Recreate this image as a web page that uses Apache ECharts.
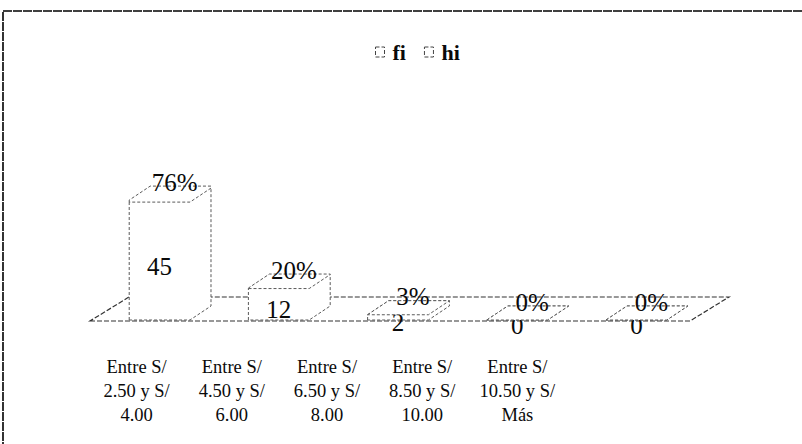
<!DOCTYPE html>
<html>
<head>
<meta charset="utf-8">
<script src="https://cdn.jsdelivr.net/npm/echarts@6/dist/echarts.min.js"></script>
<style>
  html, body { margin: 0; padding: 0; background: #fff; }
  #chart { width: 802px; height: 444px; }
</style>
</head>
<body>
<div id="chart"></div>
<script>
// Price ranges (S/) and their frequencies
const categories = [
  'Entre S/\n2.50 y S/\n4.00',
  'Entre S/\n4.50 y S/\n6.00',
  'Entre S/\n6.50 y S/\n8.00',
  'Entre S/\n8.50 y S/\n10.00',
  'Entre S/\n10.50 y S/\nMás'
];
const fi = [45, 12, 2, 0, 0];          // absolute frequency
const hi = [0.76, 0.20, 0.03, 0, 0];   // relative frequency

const SERIF = 'Liberation Serif';
const INK = '#0a0a0a';
const EDGE = '#5a5a5a';
const DEPTH_X = 21, DEPTH_Y = -14;     // 3D offset of a column
const FLOOR_X = 39, FLOOR_Y = -24;     // 3D offset of the floor

// Outline of a 3D column between two values, as seen from the front-left
function columnPoints(api, idx, from, to) {
  const base = api.coord([idx, from]);
  const top = api.coord([idx, to]);
  const w = api.size([1, 0])[0] * 0.51;
  const xl = base[0] - w / 2, xr = base[0] + w / 2;
  return {
    cx: base[0], yb: base[1], yt: top[1],
    points: [
      [xl, base[1]], [xl, top[1]],
      [xl + DEPTH_X, top[1] + DEPTH_Y], [xr + DEPTH_X, top[1] + DEPTH_Y],
      [xr + DEPTH_X, base[1] + DEPTH_Y], [xr, base[1]]
    ]
  };
}

function edgeStyle() {
  return { fill: '#fff', stroke: EDGE, lineWidth: 1, lineDash: [3, 2] };
}

function valueText(x, y, text) {
  return {
    type: 'text', z2: 10,
    style: {
      x, y, text,
      font: 'normal 25px "Liberation Serif", serif',
      fontFamily: SERIF, fontSize: 25,
      fill: INK, align: 'center', verticalAlign: 'middle'
    }
  };
}

const chart = echarts.init(document.getElementById('chart'), null, { renderer: 'svg' });

chart.setOption({
  animation: false,
  backgroundColor: '#fff',
  graphic: [{
    type: 'rect',
    shape: { x: 3, y: 11, width: 830, height: 460 },
    style: { fill: 'none', stroke: '#000', lineWidth: 1.6, lineDash: [9, 1] },
    silent: true
  }],
  legend: {
    left: 370, top: 36,
    itemWidth: 9, itemHeight: 10, itemGap: 18,
    textStyle: { fontFamily: SERIF, fontSize: 22, fontWeight: 'bold', color: INK, padding: [0, 0, 0, 3] },
    data: [
      { name: 'fi', icon: 'rect', itemStyle: { color: '#fff', borderColor: '#444', borderWidth: 1, borderType: 'dashed' } },
      { name: 'hi', icon: 'rect', itemStyle: { color: '#fff', borderColor: '#444', borderWidth: 1, borderType: 'dashed' } }
    ]
  },
  grid: [
    { left: 100, width: 596, top: 189, height: 131 },
    { left: 89, width: 476, top: 300, height: 52 }
  ],
  xAxis: [
    { type: 'category', gridIndex: 0, data: categories, show: false },
    {
      type: 'category', gridIndex: 1, data: categories,
      axisLine: { show: false }, axisTick: { show: false },
      axisLabel: { interval: 0, margin: 3, fontFamily: SERIF, fontSize: 18.5, lineHeight: 24, color: INK, align: 'center' }
    }
  ],
  yAxis: [
    { type: 'value', gridIndex: 0, min: 0, max: 50, show: false },
    { type: 'value', gridIndex: 1, show: false }
  ],
  series: [
    {
      // floor of the 3D plot
      type: 'custom', name: 'floor', xAxisIndex: 0, yAxisIndex: 0, z: 1,
      silent: true, legendHoverLink: false,
      data: [[0, 0]],
      renderItem(params, api) {
        const cs = params.coordSys;
        const y0 = api.coord([0, 0])[1] + 1;
        const fl = cs.x - 10, fr = cs.x + cs.width - 6;
        return {
          type: 'polygon',
          shape: { points: [[fl, y0], [fr, y0], [fr + FLOOR_X, y0 + FLOOR_Y], [fl + FLOOR_X, y0 + FLOOR_Y]] },
          style: { fill: '#fff', stroke: '#333', lineWidth: 1.2, lineDash: [5, 2] }
        };
      }
    },
    {
      type: 'custom', name: 'fi', xAxisIndex: 0, yAxisIndex: 0, z: 2,
      itemStyle: { color: '#fff' },
      data: fi.map((v, i) => [i, v]),
      encode: { x: 0, y: 1 },
      renderItem(params, api) {
        const idx = api.value(0), v = api.value(1);
        const c = columnPoints(api, idx, 0, v);
        return {
          type: 'group',
          children: [
            { type: 'polygon', shape: { points: c.points }, style: edgeStyle() },
            valueText(c.cx, (c.yb + c.yt) / 2 + 5, String(v))
          ]
        };
      }
    },
    {
      // relative frequency stacked on top of fi
      type: 'custom', name: 'hi', xAxisIndex: 0, yAxisIndex: 0, z: 3,
      itemStyle: { color: '#fff' },
      data: hi.map((v, i) => [i, v, fi[i]]),
      encode: { x: 0, y: 1 },
      renderItem(params, api) {
        const idx = api.value(0), v = api.value(1), base = api.value(2);
        const c = columnPoints(api, idx, base, base + v);
        return {
          type: 'group',
          children: [
            { type: 'polygon', shape: { points: c.points }, style: edgeStyle() },
            valueText(c.cx + 15, c.yt - 18, Math.round(v * 100) + '%')
          ]
        };
      }
    }
  ]
});
</script>
</body>
</html>
